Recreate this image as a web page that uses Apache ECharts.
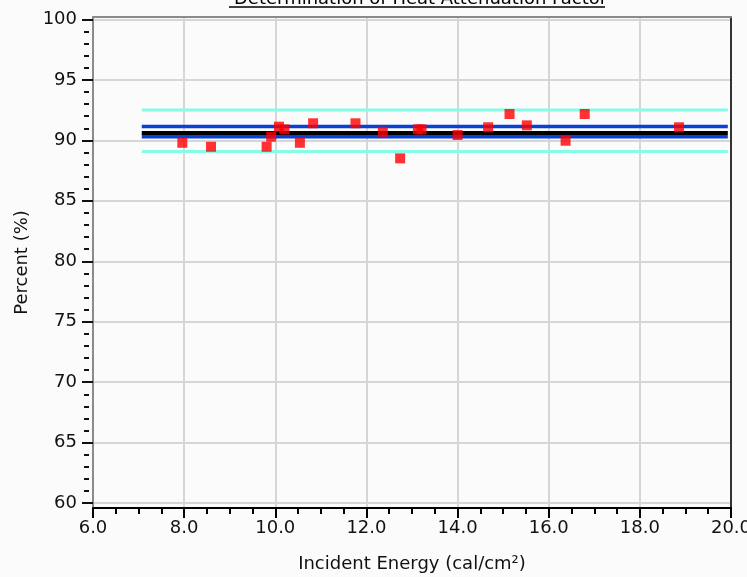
<!DOCTYPE html>
<html>
<head>
<meta charset="utf-8">
<script src="https://cdn.jsdelivr.net/npm/echarts@6/dist/echarts.min.js"></script>
<style>
html,body{margin:0;padding:0;background:#fbfbfb;}
#chart{width:747px;height:577px;}
</style>
</head>
<body>
<div id="chart"></div>
<script>
// ---- data ----
const titleText = 'Determination of Heat Attenuation Factor';
const xName = 'Incident Energy (cal/cm\u00b2)';
const yName = 'Percent (%)';
const yMajorTicks = [60, 65, 70, 75, 80, 85, 90, 95, 100];
const yMinorTicks = [61,62,63,64,66,67,68,69,71,72,73,74,76,77,78,79,81,82,83,84,86,87,88,89,91,92,93,94,96,97,98,99];
const energy = [7.96, 8.59, 9.81, 9.91, 10.08, 10.20, 10.54, 10.83, 11.76, 12.36, 12.74, 13.13, 13.21, 14.00, 14.67, 15.14, 15.52, 16.37, 16.79, 18.86];
const percent = [89.80, 89.47, 89.47, 90.30, 91.13, 90.91, 89.80, 91.41, 91.41, 90.71, 88.51, 90.91, 90.91, 90.44, 91.08, 92.18, 91.24, 89.97, 92.18, 91.08];
const lineX = [7.07, 19.93];
const meanValue = 90.61;
const innerUpper = 91.14;
const innerLower = 90.30;
const outerUpper = 92.51;
const outerLower = 89.08;

const Y_MIN = 59.6, Y_MAX = 100.2;
const FONT = 'DejaVu Sans';

function hline(v, color, width, z) {
  return {
    type: 'line', data: lineX.map(x => [x, v]), symbol: 'none', silent: true,
    lineStyle: { color: color, width: width }, z: z, animation: false
  };
}

const chart = echarts.init(document.getElementById('chart'));
chart.setOption({
  backgroundColor: '#fbfbfb',
  animation: false,
  title: {
    text: titleText, left: 229, top: -15,
    textStyle: { fontFamily: FONT, fontSize: 18, fontWeight: 'normal', color: '#000' }
  },
  graphic: [{
    type: 'line', shape: { x1: 229, y1: 7, x2: 605, y2: 7 },
    style: { stroke: '#000', lineWidth: 1.5 }
  }],
  grid: { left: 93, right: 16, top: 17, bottom: 69, show: false, outerBoundsMode: 'none', containLabel: false },
  xAxis: [{
    type: 'value', min: 6, max: 20, interval: 2,
    name: xName, nameLocation: 'middle', nameGap: 47,
    nameTextStyle: { fontFamily: FONT, fontSize: 18, color: '#111' },
    axisLine: { show: true, lineStyle: { color: '#000', width: 2 } },
    axisTick: { show: true, length: 10, lineStyle: { color: '#000', width: 2 } },
    minorTick: { show: true, splitNumber: 4, length: 6, lineStyle: { color: '#000', width: 2 } },
    axisLabel: { margin: 11, fontFamily: FONT, fontSize: 18, color: '#111', formatter: v => v.toFixed(1) },
    splitLine: { show: true, lineStyle: { color: '#d6d6d6', width: 2 } }
  }, {
    type: 'value', min: 6, max: 20, position: 'top',
    axisLine: { show: true, lineStyle: { color: '#8a8a8a', width: 2 } },
    axisTick: { show: false }, axisLabel: { show: false }, splitLine: { show: false }
  }],
  yAxis: [{
    type: 'value', min: Y_MIN, max: Y_MAX,
    name: yName, nameLocation: 'middle', nameGap: 57,
    nameTextStyle: { fontFamily: FONT, fontSize: 18, color: '#111' },
    axisLine: { show: true, lineStyle: { color: '#8a8a8a', width: 2 } },
    axisTick: { show: true, length: 11, customValues: yMajorTicks, lineStyle: { color: '#111', width: 2 } },
    axisLabel: { margin: 16, fontFamily: FONT, fontSize: 18, color: '#111', customValues: yMajorTicks },
    splitLine: { show: true, lineStyle: { color: '#d6d6d6', width: 2 } }
  }, {
    type: 'value', min: Y_MIN, max: Y_MAX, position: 'left', offset: 4,
    axisLine: { show: false },
    axisTick: { show: true, length: 5, customValues: yMinorTicks, lineStyle: { color: '#111', width: 2 } },
    axisLabel: { show: false }, splitLine: { show: false }
  }, {
    type: 'value', min: Y_MIN, max: Y_MAX, position: 'right',
    axisLine: { show: true, lineStyle: { color: '#333', width: 2 } },
    axisTick: { show: false }, axisLabel: { show: false }, splitLine: { show: false }
  }],
  series: [
    hline(outerUpper, '#86fce6', 3, 2),
    hline(outerLower, '#86fce6', 3, 2),
    hline(innerUpper, '#0a40d4', 3.5, 3),
    hline(innerLower, '#0a40d4', 3.5, 3),
    hline(meanValue, '#000', 4, 4),
    {
      type: 'scatter', data: energy.map((x, i) => [x, percent[i]]),
      symbol: 'rect', symbolSize: 10, z: 5,
      itemStyle: { color: '#ff0000' }
    }
  ]
});
</script>
</body>
</html>
